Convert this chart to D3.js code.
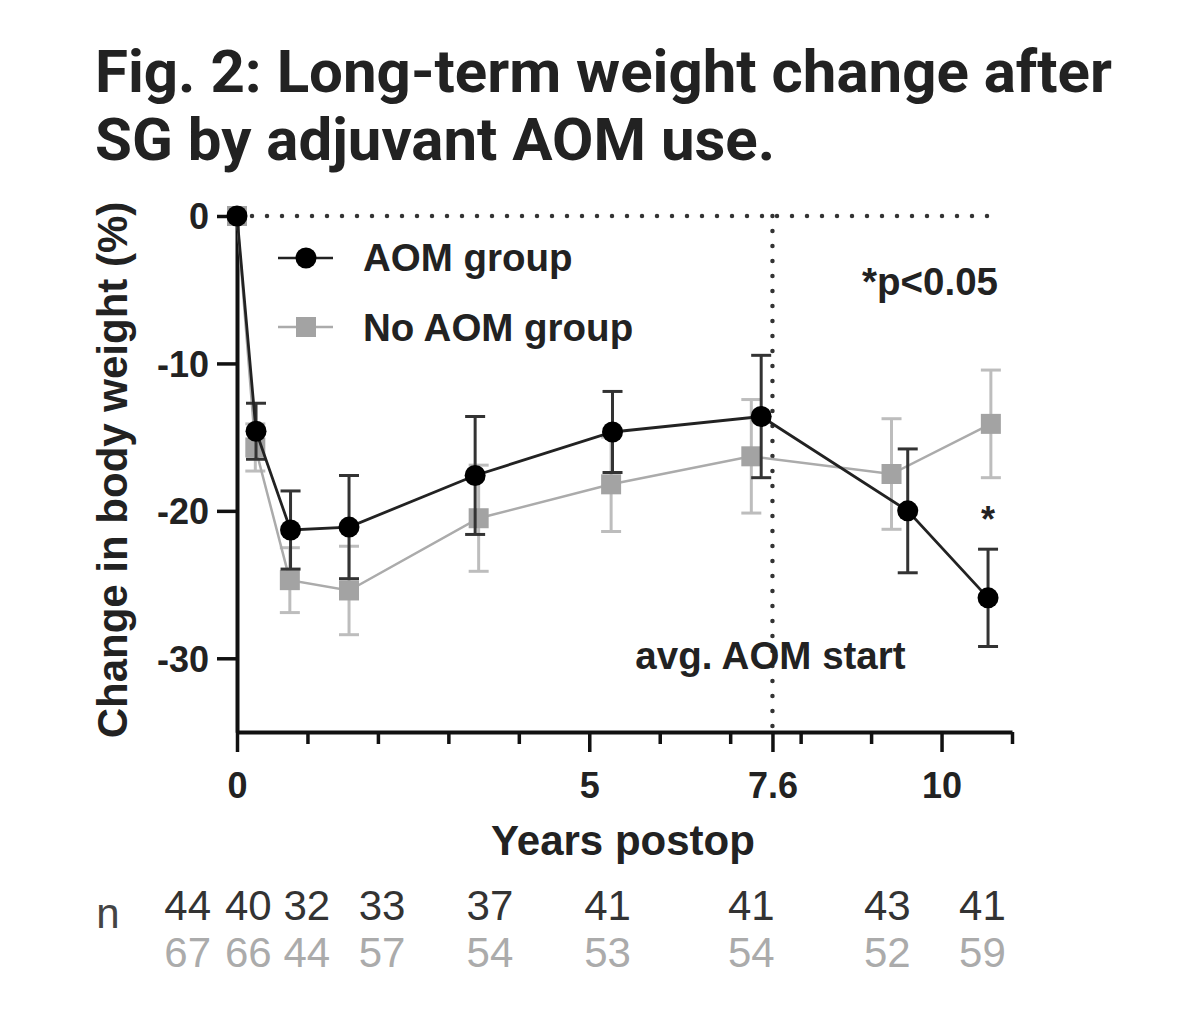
<!DOCTYPE html>
<html>
<head>
<meta charset="utf-8">
<script src="https://cdn.jsdelivr.net/npm/d3@7"></script>
<style>
  body { margin: 0; background: #fff; }
  svg { display: block; }
</style>
</head>
<body>
<svg id="chart"></svg>
<script>
// data
var aomYears  = [0, 0.27, 0.76, 1.59, 3.38, 5.33, 7.44, 9.52, 10.66]
var aomMean   = [0, -14.6, -21.3, -21.1, -17.6, -14.65, -13.6, -20.0, -25.9]
var aomErr    = [0, 1.9, 2.65, 3.5, 4.0, 2.75, 4.15, 4.2, 3.3]

var noYears   = [0, 0.26, 0.75, 1.59, 3.43, 5.31, 7.30, 9.29, 10.70]
var noMean    = [0, -15.7, -24.7, -25.4, -20.5, -18.2, -16.3, -17.5, -14.1]
var noErr     = [0, 1.6, 2.2, 3.0, 3.6, 3.2, 3.85, 3.75, 3.65]

var nAom      = [44, 40, 32, 33, 37, 41, 41, 43, 41]
var nNo       = [67, 66, 44, 57, 54, 53, 54, 52, 59]

var xTicks      = [0, 1, 2, 3, 4, 5, 6, 7, 7.6, 8, 9, 10, 11]
var xTickLabels = [0, 5, 7.6, 10]
var yTicks      = [0, -10, -20, -30]
var aomStart    = 7.6

// where the n counts sit under the axis (in years, spread so they don't collide)
var nLabelYears = [-0.70, 0.16, 0.99, 2.06, 3.59, 5.26, 7.30, 9.23, 10.58]

var dimensions = {
    width: 1200,
    height: 1036,
    margin: { top: 216, bottom: 304, left: 237, right: 188 }
}

var svg = d3.select("#chart")
    .attr("width", dimensions.width)
    .attr("height", dimensions.height)

var font = "'Liberation Sans', Arial, sans-serif"

var xScale = d3.scaleLinear()
    .domain([0, 11])
    .range([dimensions.margin.left, dimensions.width - dimensions.margin.right])

var yScale = d3.scaleLinear()
    .domain([-35, 0])
    .range([dimensions.height - dimensions.margin.bottom, dimensions.margin.top])

var aom = aomYears.map((d, i) => ({ x: d, y: aomMean[i], e: aomErr[i] }))
var noAom = noYears.map((d, i) => ({ x: d, y: noMean[i], e: noErr[i] }))

// title
var title = svg.append("text")
    .attr("x", 95)
    .attr("font-family", "Roboto, 'Liberation Sans', sans-serif")
    .attr("font-weight", 700)
    .attr("font-size", 60)
    .attr("fill", "#222")
title.append("tspan").attr("x", 95).attr("y", 92).text("Fig. 2: Long-term weight change after")
title.append("tspan").attr("x", 95).attr("y", 160).text("SG by adjuvant AOM use.")

// dotted reference lines
svg.append("line")
    .attr("x1", xScale(0) + 15).attr("x2", xScale(10.85))
    .attr("y1", yScale(0)).attr("y2", yScale(0))
    .attr("stroke", "#333").attr("stroke-width", 4.5)
    .attr("stroke-linecap", "round").attr("stroke-dasharray", "0,15")

svg.append("line")
    .attr("x1", xScale(aomStart)).attr("x2", xScale(aomStart))
    .attr("y1", yScale(0)).attr("y2", yScale(-35))
    .attr("stroke", "#333").attr("stroke-width", 4.5)
    .attr("stroke-linecap", "round").attr("stroke-dasharray", "0,15")

// axes
var xAxisGen = d3.axisBottom(xScale)
    .tickValues(xTicks)
    .tickSize(12)
    .tickSizeOuter(0)
    .tickFormat(d => xTickLabels.includes(d) ? d : "")

var xAxis = svg.append("g")
    .attr("transform", "translate(0," + yScale(-35) + ")")
    .call(xAxisGen)
xAxis.select(".domain").attr("stroke", "#111").attr("stroke-width", 4)
xAxis.selectAll(".tick line")
    .attr("stroke", "#111").attr("stroke-width", 3.5)
    .attr("y2", d => xTickLabels.includes(d) ? 20 : 12)
xAxis.selectAll(".tick text")
    .attr("y", 66).attr("dy", 0)
    .attr("font-family", font).attr("font-weight", 700)
    .attr("font-size", 36).attr("fill", "#222")

var yAxisGen = d3.axisLeft(yScale)
    .tickValues(yTicks)
    .tickSize(20)
    .tickSizeOuter(0)
    .tickPadding(8)
    .tickFormat(d => String(d))

var yAxis = svg.append("g")
    .attr("transform", "translate(" + xScale(0) + ",0)")
    .call(yAxisGen)
yAxis.select(".domain").attr("stroke", "#111").attr("stroke-width", 4)
yAxis.selectAll(".tick line").attr("stroke", "#111").attr("stroke-width", 3.5)
yAxis.selectAll(".tick text")
    .attr("dy", "0.36em")
    .attr("font-family", font).attr("font-weight", 700)
    .attr("font-size", 36).attr("fill", "#222")

svg.append("text")
    .attr("transform", "translate(127," + 470 + ") rotate(-90)")
    .attr("text-anchor", "middle")
    .attr("font-family", font).attr("font-weight", 700)
    .attr("font-size", 42).attr("fill", "#222")
    .text("Change in body weight (%)")

svg.append("text")
    .attr("x", 623).attr("y", 855)
    .attr("text-anchor", "middle")
    .attr("font-family", font).attr("font-weight", 700)
    .attr("font-size", 42).attr("fill", "#222")
    .text("Years postop")

// series
var line = d3.line().x(d => xScale(d.x)).y(d => yScale(d.y))

function drawErrors(data, color, width) {
    var g = svg.append("g").attr("stroke", color).attr("stroke-width", width)
    var pts = data.filter(d => d.e > 0)
    g.selectAll(".v").data(pts).enter().append("line")
        .attr("x1", d => xScale(d.x)).attr("x2", d => xScale(d.x))
        .attr("y1", d => yScale(d.y + d.e)).attr("y2", d => yScale(d.y - d.e))
    g.selectAll(".t").data(pts).enter().append("line")
        .attr("x1", d => xScale(d.x) - 10).attr("x2", d => xScale(d.x) + 10)
        .attr("y1", d => yScale(d.y + d.e)).attr("y2", d => yScale(d.y + d.e))
    g.selectAll(".b").data(pts).enter().append("line")
        .attr("x1", d => xScale(d.x) - 10).attr("x2", d => xScale(d.x) + 10)
        .attr("y1", d => yScale(d.y - d.e)).attr("y2", d => yScale(d.y - d.e))
}

// no AOM group (grey squares) first, it sits behind
drawErrors(noAom, "#bdbdbd", 3)
svg.append("path")
    .datum(noAom)
    .attr("d", line)
    .attr("fill", "none").attr("stroke", "#ababab").attr("stroke-width", 2.5)
svg.append("g").selectAll("rect")
    .data(noAom)
    .enter()
    .append("rect")
    .attr("x", d => xScale(d.x) - 10)
    .attr("y", d => yScale(d.y) - 10)
    .attr("width", 20).attr("height", 20)
    .attr("fill", "#a3a3a3")

// AOM group (black dots)
drawErrors(aom, "#333", 3)
svg.append("path")
    .datum(aom)
    .attr("d", line)
    .attr("fill", "none").attr("stroke", "#222").attr("stroke-width", 2.8)
svg.append("g").selectAll("circle")
    .data(aom)
    .enter()
    .append("circle")
    .attr("cx", d => xScale(d.x))
    .attr("cy", d => yScale(d.y))
    .attr("r", 10.5)
    .attr("fill", "#000")

// legend
var legend = svg.append("g")
legend.append("line").attr("x1", 278).attr("x2", 333).attr("y1", 258).attr("y2", 258)
    .attr("stroke", "#222").attr("stroke-width", 2.5)
legend.append("circle").attr("cx", 306).attr("cy", 258).attr("r", 10.5).attr("fill", "#000")
legend.append("text").attr("x", 363).attr("y", 271)
    .attr("font-family", font).attr("font-weight", 700).attr("font-size", 38.5).attr("fill", "#222")
    .text("AOM group")
legend.append("line").attr("x1", 278).attr("x2", 333).attr("y1", 327).attr("y2", 327)
    .attr("stroke", "#ababab").attr("stroke-width", 2.5)
legend.append("rect").attr("x", 296).attr("y", 317).attr("width", 20).attr("height", 20).attr("fill", "#a3a3a3")
legend.append("text").attr("x", 363).attr("y", 341)
    .attr("font-family", font).attr("font-weight", 700).attr("font-size", 38.5).attr("fill", "#222")
    .text("No AOM group")

// annotations
svg.append("text")
    .attr("x", 998).attr("y", 295)
    .attr("text-anchor", "end")
    .attr("font-family", font).attr("font-weight", 700).attr("font-size", 38.5).attr("fill", "#222")
    .text("*p<0.05")

svg.append("text")
    .attr("x", xScale(aomStart) - 2).attr("y", 669)
    .attr("text-anchor", "middle")
    .attr("font-family", font).attr("font-weight", 700).attr("font-size", 38.5).attr("fill", "#222")
    .text("avg. AOM start")

svg.append("text")
    .attr("x", xScale(aomYears[aomYears.length - 1])).attr("y", 532)
    .attr("text-anchor", "middle")
    .attr("font-family", font).attr("font-weight", 700).attr("font-size", 36).attr("fill", "#222")
    .text("*")

// n at risk rows
svg.append("text")
    .attr("x", 108).attr("y", 928)
    .attr("text-anchor", "middle")
    .attr("font-family", font).attr("font-size", 42).attr("fill", "#444")
    .text("n")

svg.append("g").selectAll("text")
    .data(nAom)
    .enter()
    .append("text")
    .attr("x", (d, i) => xScale(nLabelYears[i]))
    .attr("y", 920)
    .attr("text-anchor", "middle")
    .attr("font-family", font).attr("font-size", 42).attr("fill", "#333")
    .text(d => d)

svg.append("g").selectAll("text")
    .data(nNo)
    .enter()
    .append("text")
    .attr("x", (d, i) => xScale(nLabelYears[i]))
    .attr("y", 967)
    .attr("text-anchor", "middle")
    .attr("font-family", font).attr("font-size", 42).attr("fill", "#ababab")
    .text(d => d)
</script>
</body>
</html>
